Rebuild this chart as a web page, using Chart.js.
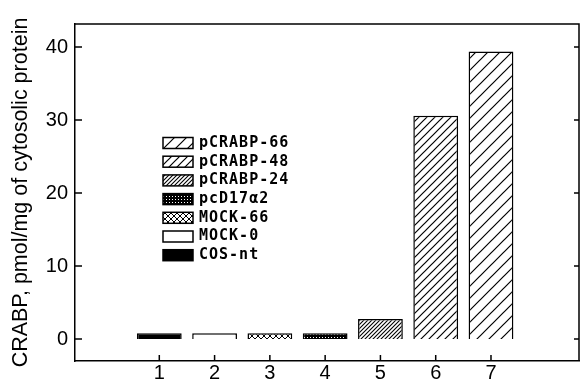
<!DOCTYPE html>
<html lang="en">
<head>
<meta charset="UTF-8">
<title>CRABP levels</title>
<script src="https://cdn.jsdelivr.net/npm/chart.js"></script>
<style>
  html, body { margin: 0; padding: 0; background: #fff; }
</style>
</head>
<body>
<canvas id="crabpChart" width="581" height="380"></canvas>
<script>
// lane numbers on the x axis
const lanes = [1, 2, 3, 4, 5, 6, 7];
// CRABP, pmol/mg of cytosolic protein
const crabp = [0.8, 0.8, 0.8, 0.8, 2.75, 30.6, 39.4];
// sample in each lane (legend lists them from lane 7 down to lane 1)
const samples = ['COS-nt', 'MOCK-0', 'MOCK-66', 'pcD17α2', 'pCRABP-24', 'pCRABP-48', 'pCRABP-66'];
const yTicks = [0, 10, 20, 30, 40];

// --- fill patterns, like the hatching of the printed figure ---
function tile(size, paint) {
    const c = document.createElement('canvas');
    c.width = size; c.height = size;
    const g = c.getContext('2d');
    g.fillStyle = '#fff';
    g.fillRect(0, 0, size, size);
    paint(g, size);
    return document.createElement('canvas').getContext('2d').createPattern(c, 'repeat');
}
function hatch(size, lw) {
    return tile(size, (g, s) => {
        g.strokeStyle = '#000';
        g.lineWidth = lw;
        g.beginPath();
        g.moveTo(-1, s + 1); g.lineTo(s + 1, -1);
        g.moveTo(-2, 2); g.lineTo(2, -2);
        g.moveTo(s - 2, s + 2); g.lineTo(s + 2, s - 2);
        g.stroke();
    });
}
const fills = [
    '#000',                                   // COS-nt
    '#fff',                                   // MOCK-0
    tile(6, (g, s) => {                       // MOCK-66, cross hatch
        g.strokeStyle = '#000'; g.lineWidth = 1;
        g.beginPath();
        g.moveTo(0, 0); g.lineTo(s, s);
        g.moveTo(0, s); g.lineTo(s, 0);
        g.stroke();
    }),
    tile(3, (g, s) => {                       // pcD17a2, dark stipple
        g.fillStyle = '#000'; g.fillRect(0, 0, s, s);
        g.fillStyle = '#fff'; g.fillRect(1, 1, 1, 1);
    }),
    hatch(4, 1.1),                            // pCRABP-24
    hatch(8, 1.2),                            // pCRABP-48
    hatch(12, 1.2)                            // pCRABP-66
];

// inward tick marks and the closed frame
const framePlugin = {
    id: 'frame',
    afterDraw(chart) {
        const { ctx, chartArea: a, scales: { x, y } } = chart;
        ctx.save();
        ctx.strokeStyle = '#000';
        ctx.lineWidth = 1.5;
        ctx.beginPath();
        ctx.moveTo(a.left, a.top); ctx.lineTo(a.right, a.top); ctx.lineTo(a.right, a.bottom);
        x.ticks.forEach(t => {
            const px = x.getPixelForValue(t.value);
            ctx.moveTo(px, a.bottom); ctx.lineTo(px, a.bottom - 6);
        });
        y.ticks.forEach(t => {
            const py = y.getPixelForValue(t.value);
            ctx.moveTo(a.left, py); ctx.lineTo(a.left + 7, py);
            ctx.moveTo(a.right, py); ctx.lineTo(a.right - 5, py);
        });
        ctx.stroke();
        ctx.restore();
    }
};

// legend boxed inside the plot, highest lane first
const legendPlugin = {
    id: 'boxLegend',
    afterDraw(chart) {
        const { ctx, chartArea: a } = chart;
        const x0 = a.left + 88, y0 = a.top + 119, step = 18.7;
        ctx.save();
        ctx.font = 'bold 15px "DejaVu Sans Mono"';
        ctx.letterSpacing = '1px';
        ctx.textBaseline = 'middle';
        for (let i = samples.length - 1, row = 0; i >= 0; i--, row++) {
            const cy = y0 + row * step;
            ctx.fillStyle = fills[i];
            ctx.fillRect(x0, cy - 5.5, 30, 11);
            ctx.strokeStyle = '#000';
            ctx.lineWidth = 1.5;
            ctx.strokeRect(x0, cy - 5.5, 30, 11);
            ctx.fillStyle = '#000';
            ctx.fillText(samples[i], x0 + 36, cy);
        }
        ctx.restore();
    }
};

Chart.defaults.font.family = '"Liberation Sans", Arial, sans-serif';
Chart.defaults.color = '#000';

new Chart(document.getElementById('crabpChart'), {
    type: 'bar',
    data: {
        datasets: [{
            data: lanes.map((l, i) => ({ x: l, y: crabp[i] })),
            backgroundColor: fills,
            borderColor: '#000',
            borderWidth: 1.5,
            barPercentage: 0.81,
            categoryPercentage: 1
        }]
    },
    options: {
        responsive: false,
        animation: false,
        layout: { padding: { top: 24, right: 2, left: 0, bottom: 0 } },
        plugins: { legend: { display: false }, tooltip: { enabled: false } },
        scales: {
            x: {
                type: 'linear',
                offset: false,
                min: -0.525,
                max: 8.592,
                afterBuildTicks: s => { s.ticks = lanes.map(v => ({ value: v })); },
                afterFit: s => { s.height = 19; },
                grid: { display: false, drawTicks: false, offset: false },
                border: { color: '#000', width: 1.5 },
                ticks: { font: { size: 20 }, padding: 0, maxRotation: 0 }
            },
            y: {
                min: -3.0,
                max: 43.15,
                afterBuildTicks: s => { s.ticks = yTicks.map(v => ({ value: v })); },
                afterFit: s => { s.width = 75; },
                grid: { display: false, drawTicks: false },
                border: { color: '#000', width: 1.5 },
                ticks: { font: { size: 20 }, padding: 7 },
                title: {
                    display: true,
                    text: 'CRABP, pmol/mg of cytosolic protein',
                    font: { size: 21.5 },
                    padding: { top: 8, bottom: 0 }
                }
            }
        }
    },
    plugins: [framePlugin, legendPlugin]
});
</script>
</body>
</html>
